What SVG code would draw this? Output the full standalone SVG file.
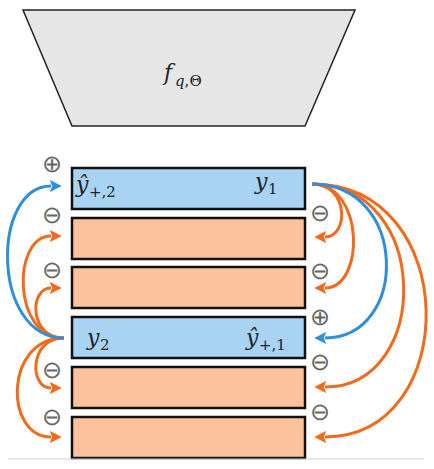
<svg xmlns="http://www.w3.org/2000/svg" width="434" height="469" viewBox="0 0 434 469">
<style>
.box{stroke:#111;stroke-width:2.5}
.pos{fill:#A8D3F3}
.neg{fill:#FBC29C}
.cb{fill:none;stroke:#2F8FDD;stroke-width:3}
.co{fill:none;stroke:#F26A1B;stroke-width:3}
</style>
<defs>
<marker id="ab" markerUnits="userSpaceOnUse" viewBox="0 0 10 10" refX="1" refY="5" markerWidth="12" markerHeight="12" orient="auto">
<path d="M0,0 L10,5 L0,10 L2,5 z" fill="#2F8FDD"/>
</marker>
<marker id="ao" markerUnits="userSpaceOnUse" viewBox="0 0 10 10" refX="1" refY="5" markerWidth="12" markerHeight="12" orient="auto">
<path d="M0,0 L10,5 L0,10 L2,5 z" fill="#F26A1B"/>
</marker>
</defs>
<g id="model">
<polygon points="23,10 355,10 305,126 72,126" fill="#E6E6E6" stroke="#222" stroke-width="1.5"/>
<text x="164" y="80" font-family="DejaVu Serif, serif" font-style="italic" font-size="22" fill="#222">f</text>
<text x="175" y="86" font-family="DejaVu Serif, serif" font-size="15" fill="#222"><tspan font-style="italic">q</tspan>,Θ</text>
</g>
<g id="r1"><rect x="72" y="168" width="233" height="41" class="box pos"/>
<text x="76" y="192" font-family="DejaVu Serif, serif" font-style="italic" font-size="22" fill="#222">ŷ</text>
<text x="89" y="197" font-family="DejaVu Serif, serif" font-size="15" fill="#222">+,2</text>
<text x="255" y="189" font-family="DejaVu Serif, serif" font-style="italic" font-size="22" fill="#222">y</text>
<text x="268" y="194" font-family="DejaVu Serif, serif" font-size="15" fill="#222">1</text></g>
<g id="r2"><rect x="72" y="218" width="233" height="41" class="box neg"/></g>
<g id="r3"><rect x="72" y="267" width="233" height="41" class="box neg"/></g>
<g id="r4"><rect x="72" y="317" width="233" height="41" class="box pos"/>
<text x="87" y="345" font-family="DejaVu Serif, serif" font-style="italic" font-size="22" fill="#222">y</text>
<text x="100" y="350" font-family="DejaVu Serif, serif" font-size="15" fill="#222">2</text>
<text x="246" y="345" font-family="DejaVu Serif, serif" font-style="italic" font-size="22" fill="#222">ŷ</text>
<text x="259" y="350" font-family="DejaVu Serif, serif" font-size="15" fill="#222">+,1</text></g>
<g id="r5"><rect x="72" y="367" width="233" height="41" class="box neg"/></g>
<g id="r6"><rect x="72" y="417" width="233" height="41" class="box neg"/></g>
<g id="signs" font-family="'DejaVu Sans ExtraLight', 'DejaVu Sans', sans-serif" font-weight="200" font-size="24" fill="#666" text-anchor="middle">
<text x="52" y="172">⊕</text>
<text x="52" y="223">⊖</text>
<text x="52" y="278">⊖</text>
<text x="52" y="378">⊖</text>
<text x="52" y="425">⊖</text>
<text x="320" y="221">⊖</text>
<text x="320" y="279">⊖</text>
<text x="320" y="325">⊕</text>
<text x="320" y="370">⊖</text>
<text x="320" y="420">⊖</text>
</g>
<g id="connectors">
<path class="co" d="M312,184 C349,184 349,237 325,237" marker-end="url(#ao)"/>
<path class="co" d="M312,184 C365,184 365,288 325,288" marker-end="url(#ao)"/>
<path class="co" d="M312,184 C432,184 432,387 325,387" marker-end="url(#ao)"/>
<path class="co" d="M312,184 C462,184 462,437 325,437" marker-end="url(#ao)"/>
<path class="cb" d="M312,184 C409,184 409,338 325,338" marker-end="url(#ab)"/>
<path class="co" d="M64,338 C12,338 12,236 51,236" marker-end="url(#ao)"/>
<path class="co" d="M64,338 C29,338 29,288 51,288" marker-end="url(#ao)"/>
<path class="co" d="M64,338 C29,338 29,388 51,388" marker-end="url(#ao)"/>
<path class="co" d="M64,338 C4,338 4,437 51,437" marker-end="url(#ao)"/>
<path class="cb" d="M64,338 C-9,338 -9,186 51,186" marker-end="url(#ab)"/>
</g>
<line x1="8" y1="459" x2="424" y2="459" stroke="#D0D0D0" stroke-width="1"/>
</svg>
